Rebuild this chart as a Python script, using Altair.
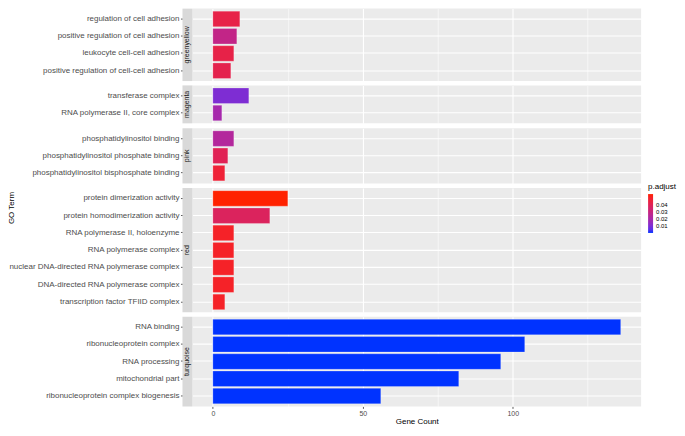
import altair as alt
import pandas as pd

modules = ["greenyellow"] * 4 + ["magenta"] * 2 + ["pink"] * 3 + ["red"] * 7 + ["turquoise"] * 5
terms = [
    "regulation of cell adhesion",
    "positive regulation of cell adhesion",
    "leukocyte cell-cell adhesion",
    "positive regulation of cell-cell adhesion",
    "transferase complex",
    "RNA polymerase II, core complex",
    "phosphatidylinositol binding",
    "phosphatidylinositol phosphate binding",
    "phosphatidylinositol bisphosphate binding",
    "protein dimerization activity",
    "protein homodimerization activity",
    "RNA polymerase II, holoenzyme",
    "RNA polymerase complex",
    "nuclear DNA-directed RNA polymerase complex",
    "DNA-directed RNA polymerase complex",
    "transcription factor TFIID complex",
    "RNA binding",
    "ribonucleoprotein complex",
    "RNA processing",
    "mitochondrial part",
    "ribonucleoprotein complex biogenesis",
]
counts = [9, 8, 7, 6, 12, 3, 7, 5, 4, 25, 19, 7, 7, 7, 7, 4, 136, 104, 96, 82, 56]
padj = [0.043, 0.028, 0.043, 0.042,
        0.010, 0.019,
        0.023, 0.040, 0.047,
        0.055, 0.038, 0.050, 0.050, 0.050, 0.050, 0.050,
        1e-9, 2e-9, 3e-9, 1e-8, 2e-8]
module_order = ["greenyellow", "magenta", "pink", "red", "turquoise"]
x_ticks = [0, 25, 50, 75, 100, 125]
legend_values = [0.01, 0.02, 0.03, 0.04]

df = pd.DataFrame({"module": modules, "term": terms, "count": counts, "padj": padj})

FONT = "Liberation Sans"
STEP = 17.3
W = 450
STRIP = 10
EXTENT = 175

xscale = alt.Scale(domain=[-6.8, 142.8], nice=False, zero=False)
yscale = alt.Scale(paddingInner=0.1, paddingOuter=0.15)
cscale = alt.Scale(range=["#0033FF", "#FF2200"], interpolate="lab", zero=True)

color_enc = alt.Color(
    "padj:Q",
    scale=cscale,
    title="p.adjust",
    legend=alt.Legend(
        values=legend_values,
        orient="none",
        legendX=W + 7,
        legendY=175,
        gradientLength=39,
        gradientThickness=5,
        gradientStrokeWidth=0,
        titleFontSize=8,
        titleFontWeight="normal",
        titleColor="black",
        titlePadding=3,
        labelFontSize=6,
        labelColor="black",
        labelOffset=3,
        labelOverlap=False,
    ),
)


def x_axis(last):
    common = dict(
        values=x_ticks,
        grid=True,
        gridColor="white",
        gridWidth={"condition": {"test": "datum.value % 50 === 0", "value": 1.1}, "value": 0.55},
        domain=False,
    )
    if not last:
        return alt.Axis(labels=False, ticks=False, title=None, minExtent=0, maxExtent=0, **common)
    return alt.Axis(
        labelExpr="datum.value % 50 === 0 ? datum.label : ''",
        tickOpacity={"condition": {"test": "datum.value % 50 === 0", "value": 1}, "value": 0},
        tickColor="#333333",
        tickSize=2,
        tickWidth=0.8,
        labelFontSize=7,
        labelColor="#4D4D4D",
        labelPadding=1,
        title="Gene Count",
        titleFontSize=8,
        titleFontWeight="normal",
        titleColor="black",
        titlePadding=1,
        **common,
    )


y_axis = alt.Axis(
    grid=True,
    gridColor="white",
    gridWidth=1.1,
    domain=False,
    tickColor="#333333",
    tickSize=2,
    tickWidth=0.8,
    labelFontSize=8,
    labelColor="#4D4D4D",
    labelPadding=1.5,
    labelLimit=0,
    offset=STRIP,
    bandPosition=0.5,
    minExtent=EXTENT,
    title=None,
)


def panel(m, last):
    n = modules.count(m)
    h = STEP * (n + 0.2)
    sub = alt.Chart().transform_filter(alt.datum.module == m)
    one = sub.transform_aggregate(n="count()", groupby=["module"])
    strip = one.mark_rect(color="#D9D9D9").encode(
        x=alt.value(-STRIP), x2=alt.value(0), y=alt.value(0), y2=alt.value("height")
    )
    strip_text = one.mark_text(
        angle=270, fontSize=7, color="#1A1A1A", font=FONT, align="center", baseline="middle"
    ).encode(text="module:N", x=alt.value(-STRIP / 2), y=alt.value(h / 2))
    bars = sub.mark_bar(stroke="white", strokeOpacity=0.35, strokeWidth=0.7).encode(
        x=alt.X("count:Q", scale=xscale, title="Gene Count" if last else None, axis=x_axis(last)),
        y=alt.Y("term:N", sort=terms, scale=yscale, axis=y_axis),
        color=color_enc,
    )
    layers = [strip, strip_text, bars]
    if m == "red":
        go = one.mark_text(
            angle=270, fontSize=8, color="black", font=FONT, align="center", baseline="middle"
        ).encode(text=alt.value("GO Term"), x=alt.value(-(STRIP + EXTENT) + 4), y=alt.value(20))
        layers.append(go)
    return alt.layer(*layers).properties(width=W, height=h)


panels = [panel(m, i == len(module_order) - 1) for i, m in enumerate(module_order)]

chart = (
    alt.vconcat(*panels, data=df, spacing=4)
    .resolve_scale(x="shared", color="shared", y="independent")
    .configure(font=FONT, padding={"left": 0, "top": 0, "right": 0, "bottom": 0})
    .configure_view(fill="#EBEBEB", stroke=None)
    .configure_axis(labelFont=FONT, titleFont=FONT)
    .configure_legend(labelFont=FONT, titleFont=FONT)
)

chart.save("out.html", embed_options={"renderer": "svg", "actions": False})
